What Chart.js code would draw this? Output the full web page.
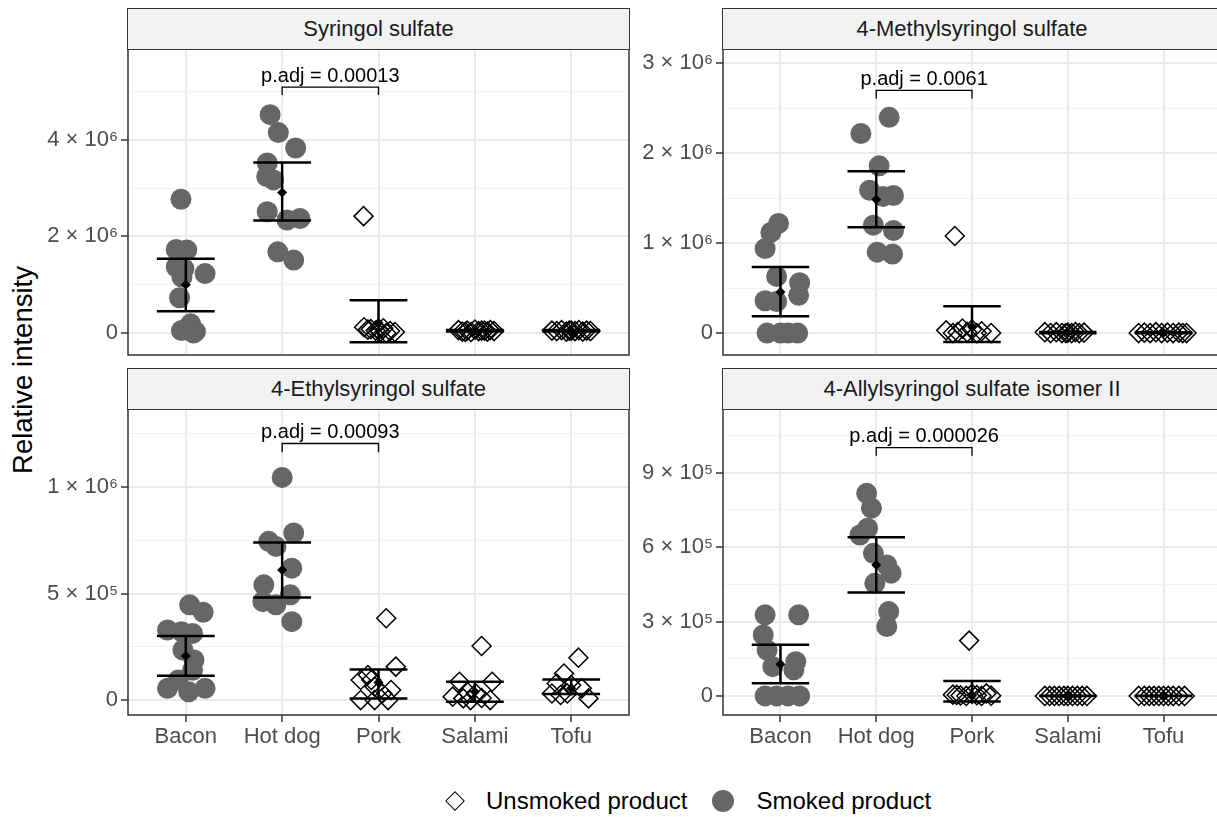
<!DOCTYPE html>
<html>
<head>
<meta charset="utf-8">
<script src="https://cdn.jsdelivr.net/npm/chart.js@4.4.1/dist/chart.umd.min.js"></script>
<style>
	body { margin: 0; width: 1217px; height: 817px; overflow: hidden; background: #fff; position: relative; font-family: "Liberation Sans", Arial, sans-serif; }
	canvas { position: absolute; }
	.strip { position: absolute; box-sizing: border-box; height: 42px; background: #f2f2f2; border: 1.5px solid #333; color: #1a1a1a; font-size: 22px; display: flex; align-items: center; justify-content: center; }
	#ytitle { position: absolute; left: 23px; top: 370px; transform: translate(-50%, -50%) rotate(-90deg); font-size: 27.5px; color: #000; white-space: nowrap; }
	#legend { position: absolute; left: 448px; top: 786px; height: 30px; display: flex; align-items: center; font-size: 24px; color: #000; white-space: nowrap; }
	.dia { width: 12px; height: 12px; border: 1.5px solid #000; transform: rotate(45deg); margin-right: 24px; }
	.dot { width: 22px; height: 22px; border-radius: 50%; background: #666; margin: 0 22px 0 25px; }
</style>
</head>
<body>
<div id="ytitle">Relative intensity</div>
<div id="legend"><span class="dia"></span><span>Unsmoked product</span><span class="dot"></span><span>Smoked product</span></div>
<script>
const categories = ["Bacon", "Hot dog", "Pork", "Salami", "Tofu"];
const smokedCategories = ["Bacon", "Hot dog"];
const panelTitles = ["Syringol sulfate", "4-Methylsyringol sulfate", "4-Ethylsyringol sulfate", "4-Allylsyringol sulfate isomer II"];
const pLabels = ["p.adj = 0.00013", "p.adj = 0.0061", "p.adj = 0.00093", "p.adj = 0.000026"];

// Syringol sulfate
const syringolValues = [
	[2.77e6, 1.73e6, 1.72e6, 1.37e6, 1.33e6, 1.23e6, 1.16e6, 0.73e6, 0.19e6, 0.05e6, 0.03e6, 0],
	[4.52e6, 4.15e6, 3.83e6, 3.52e6, 3.24e6, 3.17e6, 2.51e6, 2.37e6, 2.34e6, 1.68e6, 1.51e6],
	[2.42e6, 0.12e6, 0.08e6, 0.06e6, 0.1e6, 0.04e6, 0.02e6, 0.05e6, 0, 0.07e6, 0.03e6],
	[0.06e6, 0.03e6, 0.05e6, 0.02e6, 0.07e6, 0.04e6, 0.05e6, 0.03e6, 0.06e6, 0.04e6, 0.02e6, 0.05e6],
	[0.05e6, 0.04e6, 0.06e6, 0.03e6, 0.05e6, 0.04e6, 0.06e6, 0.03e6, 0.05e6, 0.04e6, 0.05e6]
];
const syringolJitter = [
	[-0.05, -0.1, 0.01, -0.1, -0.02, 0.2, -0.04, -0.065, 0.05, -0.045, 0.1, 0.08],
	[-0.125, -0.04, 0.14, -0.155, -0.16, -0.09, -0.155, 0.185, 0.05, -0.045, 0.12],
	[-0.155, -0.15, -0.08, 0.0, 0.05, 0.12, 0.17, -0.03, 0.08, -0.11, 0.02],
	[-0.17, -0.13, -0.08, -0.04, 0.0, 0.04, 0.1, 0.13, 0.16, 0.2, -0.1, 0.07],
	[-0.2, -0.15, -0.1, -0.05, 0.0, 0.04, 0.08, 0.12, 0.16, 0.2, -0.02]
];
const syringolMean = [1.0e6, 2.91e6, 0.21e6, 0.045e6, 0.045e6];
const syringolLow = [0.45e6, 2.33e6, -0.19e6, 0.03e6, 0.03e6];
const syringolHigh = [1.54e6, 3.53e6, 0.68e6, 0.06e6, 0.06e6];
const syringolMajor = [0, 2e6, 4e6];
const syringolMinor = [1e6, 3e6, 5e6];
const syringolTickLabels = ["0", "2 × 10⁶", "4 × 10⁶"];

// 4-Methylsyringol sulfate
const methylValues = [
	[1.22e6, 1.12e6, 0.94e6, 0.63e6, 0.56e6, 0.42e6, 0.36e6, 0.35e6, 0, 0, 0, 0],
	[2.4e6, 2.22e6, 1.86e6, 1.59e6, 1.53e6, 1.52e6, 1.2e6, 1.14e6, 0.9e6, 0.88e6],
	[1.08e6, 0.03e6, 0, 0.05e6, 0.01e6, 0, 0.02e6, 0, 0.04e6, 0.01e6],
	[0.01e6, 0, 0.01e6, 0, 0.005e6, 0, 0.01e6, 0, 0.005e6, 0],
	[0, 0.005e6, 0, 0.01e6, 0, 0.005e6, 0, 0.005e6, 0, 0]
];
const methylJitter = [
	[-0.02, -0.1, -0.16, -0.04, 0.2, 0.19, -0.16, -0.04, -0.14, 0.0, 0.18, 0.08],
	[0.135, -0.16, 0.03, -0.07, 0.18, 0.07, -0.03, 0.18, 0.01, 0.17],
	[-0.18, -0.27, -0.2, -0.1, -0.05, 0.05, 0.1, 0.2, 0.0, -0.15],
	[-0.24, -0.18, -0.12, -0.06, 0.0, 0.04, 0.08, 0.12, 0.17, -0.02],
	[-0.26, -0.2, -0.14, -0.08, -0.02, 0.04, 0.1, 0.16, 0.2, 0.24]
];
const methylMean = [0.457e6, 1.485e6, 0.067e6, 0.005e6, 0.003e6];
const methylLow = [0.186e6, 1.177e6, -0.1e6, -0.002e6, -0.002e6];
const methylHigh = [0.735e6, 1.8e6, 0.297e6, 0.012e6, 0.008e6];
const methylMajor = [0, 1e6, 2e6, 3e6];
const methylMinor = [0.5e6, 1.5e6, 2.5e6];
const methylTickLabels = ["0", "1 × 10⁶", "2 × 10⁶", "3 × 10⁶"];

// 4-Ethylsyringol sulfate
const ethylValues = [
	[4.47e5, 4.12e5, 3.29e5, 3.21e5, 3.13e5, 2.35e5, 1.88e5, 1.4e5, 0.94e5, 0.55e5, 0.55e5, 0.39e5],
	[10.45e5, 7.84e5, 7.45e5, 7.21e5, 6.19e5, 5.41e5, 4.94e5, 4.62e5, 4.47e5, 3.68e5],
	[3.84e5, 1.57e5, 1.18e5, 0.94e5, 0.94e5, 0.63e5, 0.47e5, 0.31e5, 0, 0, 0],
	[2.54e5, 0.86e5, 0.86e5, 0.39e5, 0.31e5, 0.16e5, 0.08e5, 0, 0, 0.1e5],
	[1.99e5, 1.25e5, 0.78e5, 0.7e5, 0.55e5, 0.31e5, 0.31e5, 0.24e5, 0.08e5]
];
const ethylJitter = [
	[0.04, 0.18, -0.19, -0.045, 0.07, -0.03, 0.085, 0.07, -0.08, -0.19, 0.2, 0.03],
	[0.0, 0.12, -0.14, -0.065, 0.1, -0.19, 0.085, -0.2, -0.065, 0.1],
	[0.08, 0.18, -0.11, -0.185, -0.075, -0.04, 0.13, 0.04, -0.185, -0.04, 0.1],
	[0.07, -0.16, 0.18, -0.08, 0.01, -0.23, -0.12, -0.045, 0.16, 0.07],
	[0.075, -0.075, -0.15, 0.0, 0.11, -0.04, -0.2, -0.11, 0.18]
];
const ethylMean = [2.07e5, 6.11e5, 0.82e5, 0.39e5, 0.55e5];
const ethylLow = [1.14e5, 4.81e5, 0.08e5, -0.08e5, 0.28e5];
const ethylHigh = [3.01e5, 7.4e5, 1.44e5, 0.86e5, 0.97e5];
const ethylMajor = [0, 5e5, 1e6];
const ethylMinor = [2.5e5, 7.5e5, 1.25e6];
const ethylTickLabels = ["0", "5 × 10⁵", "1 × 10⁶"];

// 4-Allylsyringol sulfate isomer II
const allylValues = [
	[3.27e5, 3.27e5, 2.46e5, 1.85e5, 1.38e5, 1.18e5, 1.05e5, 0, 0, 0, 0],
	[8.17e5, 7.57e5, 6.76e5, 6.49e5, 5.75e5, 5.28e5, 4.95e5, 4.54e5, 3.4e5, 2.8e5],
	[2.23e5, 0.05e5, 0.02e5, 0, 0.08e5, 0.03e5, 0, 0.1e5, 0.01e5, 0.04e5],
	[0, 0, 0, 0, 0, 0, 0, 0, 0, 0],
	[0, 0, 0, 0, 0, 0, 0, 0, 0, 0]
];
const allylJitter = [
	[-0.16, 0.19, -0.18, -0.14, 0.16, -0.08, 0.14, -0.16, -0.04, 0.08, 0.2],
	[-0.1, -0.05, -0.09, -0.17, -0.03, 0.11, 0.155, -0.015, 0.13, 0.11],
	[-0.03, -0.2, -0.12, -0.06, 0.0, 0.05, 0.1, 0.15, 0.2, -0.16],
	[-0.24, -0.19, -0.14, -0.09, -0.04, 0.0, 0.05, 0.1, 0.15, 0.2],
	[-0.26, -0.2, -0.15, -0.1, -0.05, 0.0, 0.05, 0.1, 0.16, 0.22]
];
const allylMean = [1.28e5, 5.28e5, 0.04e5, 0, 0];
const allylLow = [0.51e5, 4.17e5, -0.23e5, -0.005e5, -0.005e5];
const allylHigh = [2.06e5, 6.4e5, 0.6e5, 0.005e5, 0.005e5];
const allylMajor = [0, 3e5, 6e5, 9e5];
const allylMinor = [1.5e5, 4.5e5, 7.5e5, 10.5e5];
const allylTickLabels = ["0", "3 × 10⁵", "6 × 10⁵", "9 × 10⁵"];

// bracket between Hot dog and Pork: top of bracket, bottom of its legs
const bracketTop = [5.09e6, 2.70e6, 12.04e5, 10.01e5];
const bracketFoot = [4.93e6, 2.61e6, 11.63e5, 9.68e5];

const AXW = 100;
const PAD = 3;
const XH = 52;

const panels = [
	{ left: 128, top: 49, w: 501, h: 306, xLabels: false, yMin: -0.455e6, yMax: 5.88e6,
		values: syringolValues, jitter: syringolJitter, mean: syringolMean, low: syringolLow, high: syringolHigh,
		major: syringolMajor, minor: syringolMinor, tickLabels: syringolTickLabels },
	{ left: 723, top: 49, w: 498, h: 306, xLabels: false, yMin: -0.244e6, yMax: 3.16e6,
		values: methylValues, jitter: methylJitter, mean: methylMean, low: methylLow, high: methylHigh,
		major: methylMajor, minor: methylMinor, tickLabels: methylTickLabels },
	{ left: 128, top: 409, w: 501, h: 306, xLabels: true, yMin: -0.7e5, yMax: 13.66e5,
		values: ethylValues, jitter: ethylJitter, mean: ethylMean, low: ethylLow, high: ethylHigh,
		major: ethylMajor, minor: ethylMinor, tickLabels: ethylTickLabels },
	{ left: 723, top: 409, w: 498, h: 306, xLabels: true, yMin: -0.77e5, yMax: 11.57e5,
		values: allylValues, jitter: allylJitter, mean: allylMean, low: allylLow, high: allylHigh,
		major: allylMajor, minor: allylMinor, tickLabels: allylTickLabels }
];

Chart.defaults.font.family = '"Liberation Sans", Arial, sans-serif';

const panelFrame = {
	id: "panelFrame",
	afterDraw(chart) {
		const { ctx, chartArea: a } = chart;
		ctx.save();
		ctx.strokeStyle = "#333";
		ctx.lineWidth = 1.5;
		ctx.strokeRect(a.left, a.top, a.right - a.left, a.bottom - a.top);
		ctx.restore();
	}
};

const pLabelPlugin = {
	id: "pLabel",
	afterDatasetsDraw(chart, args, opts) {
		const { ctx, scales } = chart;
		ctx.save();
		ctx.font = '20px "Liberation Sans", Arial, sans-serif';
		ctx.fillStyle = "#000";
		ctx.textAlign = "center";
		ctx.textBaseline = "bottom";
		ctx.fillText(opts.text, scales.x.getPixelForValue(2.5), scales.y.getPixelForValue(opts.y) - 1);
		ctx.restore();
	}
};

function pointsFor(panel, smoked) {
	const out = [];
	categories.forEach((cat, ci) => {
		if (smokedCategories.includes(cat) !== smoked) return;
		panel.values[ci].forEach((v, k) => out.push({ x: ci + 1 + panel.jitter[ci][k], y: v }));
	});
	return out;
}

function errorBarsFor(panel) {
	const out = [];
	categories.forEach((cat, ci) => {
		const c = ci + 1;
		out.push({ x: c - 0.3, y: panel.high[ci] }, { x: c + 0.3, y: panel.high[ci] }, { x: c, y: null });
		out.push({ x: c - 0.3, y: panel.low[ci] }, { x: c + 0.3, y: panel.low[ci] }, { x: c, y: null });
		out.push({ x: c, y: panel.low[ci] }, { x: c, y: panel.high[ci] }, { x: c, y: null });
	});
	return out;
}

function buildPanel(panel, index) {
	const canvas = document.createElement("canvas");
	const width = AXW + panel.w + PAD;
	const height = PAD + panel.h + (panel.xLabels ? XH : PAD);
	canvas.width = width;
	canvas.height = height;
	canvas.style.left = `${panel.left - AXW}px`;
	canvas.style.top = `${panel.top - PAD}px`;
	canvas.style.width = `${width}px`;
	canvas.style.height = `${height}px`;
	document.body.appendChild(canvas);

	const strip = document.createElement("div");
	strip.className = "strip";
	strip.style.left = `${panel.left - 0.75}px`;
	strip.style.top = `${panel.top - 41}px`;
	strip.style.width = `${panel.w + 1.5}px`;
	strip.textContent = panelTitles[index];
	document.body.appendChild(strip);

	const yTicks = panel.major.concat(panel.minor);
	const isMajor = (v) => panel.major.includes(v);

	return new Chart(canvas, {
		type: "scatter",
		data: {
			datasets: [
				{
					data: [{ x: 2, y: bracketFoot[index] }, { x: 2, y: bracketTop[index] }, { x: 3, y: bracketTop[index] }, { x: 3, y: bracketFoot[index] }],
					showLine: true, pointRadius: 0, borderColor: "#000", borderWidth: 1.3, order: 0
				},
				{
					data: categories.map((c, ci) => ({ x: ci + 1, y: panel.mean[ci] })),
					pointStyle: "rectRot", pointRadius: 5, pointBackgroundColor: "#000", pointBorderWidth: 0, order: 1
				},
				{
					data: errorBarsFor(panel),
					showLine: true, spanGaps: false, pointRadius: 0, borderColor: "#000", borderWidth: 2.5, order: 2
				},
				{
					data: pointsFor(panel, false),
					pointStyle: "rectRot", pointRadius: 9.5, pointBackgroundColor: "rgba(0,0,0,0)",
					pointBorderColor: "#000", pointBorderWidth: 1.5, order: 3
				},
				{
					data: pointsFor(panel, true),
					pointStyle: "circle", pointRadius: 10.5, pointBackgroundColor: "#666", pointBorderWidth: 0, order: 4
				}
			]
		},
		options: {
			responsive: false,
			animation: false,
			events: [],
			layout: { autoPadding: false, padding: { top: PAD, right: PAD, bottom: panel.xLabels ? 0 : PAD, left: 0 } },
			plugins: {
				legend: { display: false },
				tooltip: { enabled: false },
				pLabel: { text: pLabels[index], y: bracketTop[index] }
			},
			scales: {
				x: {
					type: "linear",
					min: 0.4,
					max: 5.6,
					border: { display: false },
					afterBuildTicks: (scale) => { scale.ticks = categories.map((c, ci) => ({ value: ci + 1 })); },
					afterFit: (scale) => {
						scale.height = panel.xLabels ? XH : 0;
						scale.paddingLeft = 0;
						scale.paddingRight = 0;
					},
					grid: {
						color: "#ebebeb",
						lineWidth: 2,
						drawTicks: panel.xLabels,
						tickLength: 7,
						tickColor: "#333",
						tickWidth: 1.5
					},
					ticks: {
						display: panel.xLabels,
						autoSkip: false,
						maxRotation: 0,
						padding: 2,
						color: "#4d4d4d",
						font: { size: 22 },
						callback: (v) => categories[Math.round(v) - 1]
					}
				},
				y: {
					min: panel.yMin,
					max: panel.yMax,
					border: { display: false },
					afterBuildTicks: (scale) => { scale.ticks = yTicks.map((v) => ({ value: v })); },
					afterFit: (scale) => {
						scale.width = AXW;
						scale.paddingTop = 0;
						scale.paddingBottom = 0;
					},
					grid: {
						color: (c) => isMajor(c.tick.value) ? "#ebebeb" : "#f3f3f3",
						lineWidth: (c) => isMajor(c.tick.value) ? 2 : 1,
						tickLength: 7,
						tickColor: (c) => isMajor(c.tick.value) ? "#333" : "rgba(0,0,0,0)",
						tickWidth: 1.5
					},
					ticks: {
						autoSkip: false,
						padding: 3,
						color: "#4d4d4d",
						font: { size: 22 },
						callback: (v) => isMajor(v) ? panel.tickLabels[panel.major.indexOf(v)] : ""
					}
				}
			}
		},
		plugins: [panelFrame, pLabelPlugin]
	});
}

panels.forEach((panel, i) => buildPanel(panel, i));
</script>
</body>
</html>
